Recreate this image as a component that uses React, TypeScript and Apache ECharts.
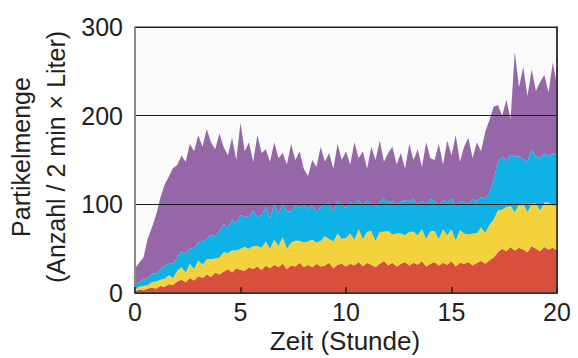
import React, { useEffect, useRef } from "react";
import * as echarts from "echarts";

// sample spacing: one reading every 0.2 hours, 0..20 h
const STEP_HOURS = 0.2;

const RED = [2,4,3,5,6,5,8,7,10,9,13,
  15,12,17,14,19,17,21,18,23,21,
  24,27,23,28,26,25,29,27,30,26,
  31,28,32,29,33,27,31,30,34,29,
  32,29,33,30,31,34,28,32,33,30,
  33,31,35,30,34,32,29,33,36,31,
  34,30,33,35,31,34,32,36,30,33,
  35,31,34,32,36,30,34,33,35,31,
  34,36,33,37,40,
  46,50,47,52,48,51,49,46,53,50,47,52,49,51,48];

const YELLOW = [2,3,5,4,6,8,7,9,10,8,12,
  14,11,16,13,18,15,17,20,16,19,
  22,18,25,20,24,27,21,26,23,25,
  27,22,28,24,30,23,26,29,25,28,
  26,31,24,29,33,27,30,35,28,32,
  34,29,37,31,35,38,30,36,33,39,
  32,37,34,30,38,35,33,36,31,37,
  35,30,38,33,36,29,37,34,31,36,
  33,38,35,40,43,
  47,44,50,46,43,49,52,45,48,51,46,50,53,47,52];

const CYAN = [6,5,8,7,10,9,12,14,13,16,15,
  18,21,17,24,20,26,23,28,25,30,
  32,28,35,31,38,34,36,40,33,37,
  39,34,41,36,38,42,35,40,37,43,
  36,40,34,38,35,41,33,37,39,34,
  36,40,33,38,35,31,39,34,37,32,
  38,33,36,40,34,37,35,32,39,36,
  34,38,33,37,35,40,32,36,34,39,
  37,34,39,36,45,
  55,60,52,58,63,54,50,57,61,53,59,56,52,60,55];

const PURPLE = [18,22,24,45,52,66,80,92,98,108,104,
  108,104,118,109,121,107,124,104,98,110,
  87,82,92,71,104,74,84,55,92,70,
  65,64,69,63,57,53,76,51,64,40,
  38,50,51,68,49,56,49,64,50,64,
  42,70,47,61,36,64,52,69,42,56,
  61,45,55,35,65,44,62,38,70,46,
  46,69,40,70,48,79,45,62,75,46,
  66,52,75,82,82,
  64,46,69,40,118,78,104,74,90,74,86,88,72,102,79];

const HOURS = RED.map((_, i) => String(+(i * STEP_HOURS).toFixed(1)));
const LABEL_EVERY = 25; // a label every 5 hours
const Y_TICKS = [0, 100, 200, 300];

const LAYERS = [
  { name: "rot", color: "#d94f3e", values: RED },
  { name: "gelb", color: "#f4d23e", values: YELLOW },
  { name: "blau", color: "#0fb2e6", values: CYAN },
  { name: "violett", color: "#9567a9", values: PURPLE },
];

const TEXT = "#231f20";
const FONT = "'Liberation Sans', Arial, Helvetica, sans-serif";

export default function App() {
  const ref = useRef<HTMLDivElement>(null);
  useEffect(() => {
    document.body.style.margin = "0";
    const chart = echarts.init(ref.current!, undefined, { renderer: "svg" });
    const series = LAYERS.map((l) => ({
      name: l.name,
      type: "line",
      stack: "total",
      showSymbol: false,
      symbol: "none",
      lineStyle: { width: 0 },
      areaStyle: { color: l.color, opacity: 1 },
      itemStyle: { color: l.color },
      data: l.values,
      z: 2,
    }));
    chart.setOption({
      animation: false,
      textStyle: { fontFamily: FONT },
      grid: {
        left: 135, right: 21, top: 27, bottom: 65,
        show: true, backgroundColor: "#fafafa",
        borderColor: TEXT, borderWidth: 1,
      },
      xAxis: {
        type: "category", data: HOURS, boundaryGap: false,
        axisLine: { show: true, lineStyle: { color: "#3a3030", width: 1.5 } },
        axisTick: { show: true, inside: true, length: 6, interval: LABEL_EVERY - 1, lineStyle: { color: TEXT, width: 1.5 } },
        axisLabel: { color: TEXT, fontSize: 25, margin: 6, fontFamily: FONT, interval: LABEL_EVERY - 1 },
        splitLine: { show: false },
        z: 5,
      },
      yAxis: [
        {
          type: "value", min: Y_TICKS[0], max: Y_TICKS[Y_TICKS.length - 1], interval: 100,
          axisLine: { show: true, lineStyle: { color: "#8a8a8a", width: 1.5 } },
          axisTick: { show: false },
          axisLabel: { color: TEXT, fontSize: 25, margin: 12, fontFamily: FONT },
          splitLine: { show: true, lineStyle: { color: TEXT, width: 1 } },
          z: 5,
        },
        {
          type: "value", min: 0, max: 300, interval: 100, position: "right",
          axisLine: { show: true, lineStyle: { color: TEXT, width: 1.5 } },
          axisTick: { show: false }, axisLabel: { show: false }, splitLine: { show: false },
          z: 5,
        },
      ],
      series,
      graphic: [
        {
          type: "text", x: 38, y: 157, rotation: Math.PI / 2,
          style: {
            text: "Partikelmenge\n(Anzahl / 2 min × Liter)",
            fontSize: 25, lineHeight: 35, fill: TEXT, fontFamily: FONT,
            align: "center", verticalAlign: "middle",
          },
        },
        {
          type: "text", x: 345, y: 341,
          style: {
            text: "Zeit (Stunde)", fontSize: 26, fill: TEXT, fontFamily: FONT,
            align: "center", verticalAlign: "middle",
          },
        },
      ],
    });
    return () => chart.dispose();
  }, []);
  return <div ref={ref} style={{ width: 578, height: 358 }} />;
}
